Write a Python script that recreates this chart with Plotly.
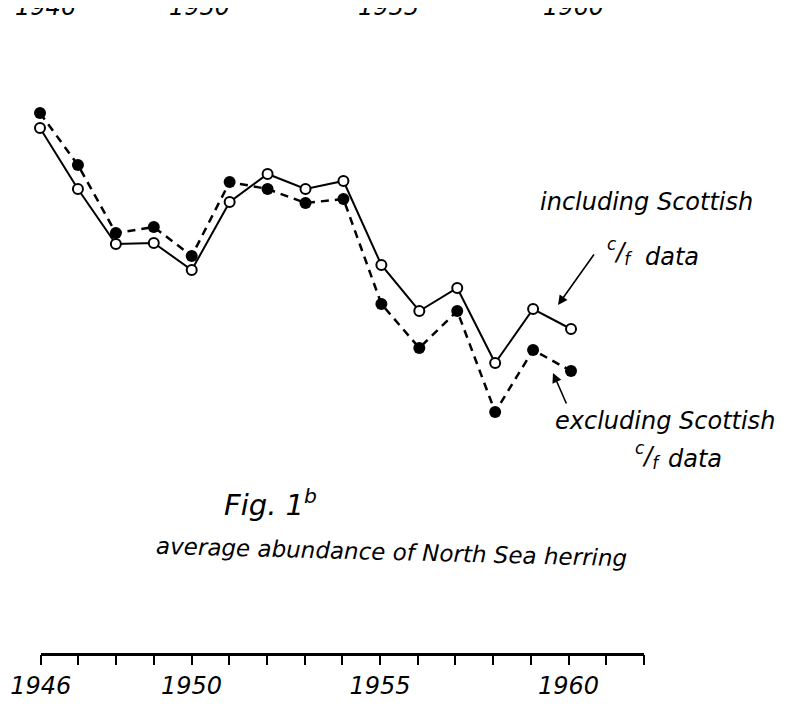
import plotly.graph_objects as go

# ---- data (abundance index, arbitrary units) ----
years = [1946, 1947, 1948, 1949, 1950, 1951, 1952, 1953, 1954, 1955,
         1956, 1957, 1958, 1959, 1960]
including_scottish = [32.2, 26.1, 20.6, 20.7, 18.0, 24.8, 27.6, 26.1, 26.9, 18.5,
                      13.9, 16.2, 8.7, 14.1, 12.1]
excluding_scottish = [33.7, 28.5, 21.7, 22.3, 19.4, 26.8, 26.1, 24.7, 25.1, 14.6,
                      10.2, 13.9, 3.8, 10.0, 7.9]
axis_years = list(range(1946, 1963))
labelled_years = [1946, 1950, 1955, 1960]
axis_ticktext = [str(y) if y in labelled_years else "" for y in axis_years]

W, H = 788, 718
OFF = 8  # page body margin that offsets the figure in the browser
FONT = "DejaVu Sans, sans-serif"


def px(x):
    return (x - OFF) / W


def py(y):
    return 1 - (y - OFF) / H


fig = go.Figure()

fig.add_trace(go.Scatter(
    x=years, y=excluding_scottish, mode="lines+markers",
    line=dict(color="black", width=2.5, dash="8px,6px"),
    marker=dict(symbol="circle", size=12, color="black"),
    name="excluding Scottish c/f data", showlegend=False, hoverinfo="x+y"))

fig.add_trace(go.Scatter(
    x=years, y=including_scottish, mode="lines+markers",
    line=dict(color="black", width=2),
    marker=dict(symbol="circle", size=10, color="white",
                line=dict(color="black", width=2)),
    name="including Scottish c/f data", showlegend=False, hoverinfo="x+y"))

# invisible trace that carries the drawn time axis
fig.add_trace(go.Scatter(x=[axis_years[0], axis_years[-1]], y=[0, 0],
                         xaxis="x2", yaxis="y2", mode="markers",
                         marker=dict(opacity=0), showlegend=False,
                         hoverinfo="skip"))

yr_px = 37.93
x0 = 1946 - (40 - OFF) / yr_px
y_top = (450 - OFF) / 10
y_bot = (450 - OFF - H) / 10
fig.update_layout(
    template="none",
    autosize=False,
    width=W, height=H,
    margin=dict(l=0, r=0, t=0, b=0, pad=0),
    paper_bgcolor="white", plot_bgcolor="white",
    xaxis=dict(domain=[0, 1], range=[x0, x0 + W / yr_px],
               visible=False, automargin=False),
    yaxis=dict(domain=[0, 1], range=[y_bot, y_top], visible=False, automargin=False),
    xaxis2=dict(domain=[px(40.7), px(644)], range=[1946, 1962], anchor="y2",
                automargin=False,
                showline=True, linecolor="black", linewidth=2.5,
                ticks="outside", ticklen=10, tickwidth=2, tickcolor="black",
                tickmode="array", tickvals=axis_years, ticktext=axis_ticktext,
                tickfont=dict(family=FONT, size=24, color="black", style="italic"),
                showgrid=False, zeroline=False),
    yaxis2=dict(domain=[py(652.7), py(600)], visible=False, range=[0, 1],
                automargin=False),
    font=dict(family=FONT, color="black"),
)

ann_font = dict(family=FONT, size=24, color="black", style="italic")


def label(x, y, text, font=ann_font, angle=0):
    fig.add_annotation(x=px(x), y=py(y), xref="paper", yref="paper", text=text,
                       showarrow=False, xanchor="center", yanchor="middle",
                       textangle=angle, font=font)


# clipped labels of the previous figure's axis at the top edge
for yr, sh in zip(labelled_years, [5, 8, 8, 5]):
    fig.add_annotation(x=yr, xref="x2", y=py(15), yref="paper", text=str(yr),
                       showarrow=False, xanchor="center", yanchor="bottom",
                       yshift=-8, xshift=sh,
                       font=dict(family=FONT, size=24, color="black", style="italic"))

label(646, 202, "including Scottish")
label(620, 251, "<sup>c</sup>/<sub>f</sub>")
label(672, 257, "data")
fig.add_annotation(x=px(558), y=py(305), xref="paper", yref="paper",
                   text="", showarrow=True, ax=37, ay=-52,
                   arrowhead=2, arrowsize=1.2, arrowwidth=1.6, arrowcolor="black")

label(665, 421, "excluding Scottish")
label(648, 455, "<sup>c</sup>/<sub>f</sub>")
label(695, 459, "data")
fig.add_annotation(x=px(553), y=py(373), xref="paper", yref="paper",
                   text="", showarrow=True, ax=14, ay=32,
                   arrowhead=2, arrowsize=1.2, arrowwidth=1.6, arrowcolor="black")

label(270, 503, "Fig. 1<sup>b</sup>",
      font=dict(family=FONT, size=29, color="black", style="italic"))
label(391, 552, "average abundance of North Sea herring",
      font=dict(family=FONT, size=23, color="black", style="italic"), angle=1.5)

fig.write_html("out.html")
